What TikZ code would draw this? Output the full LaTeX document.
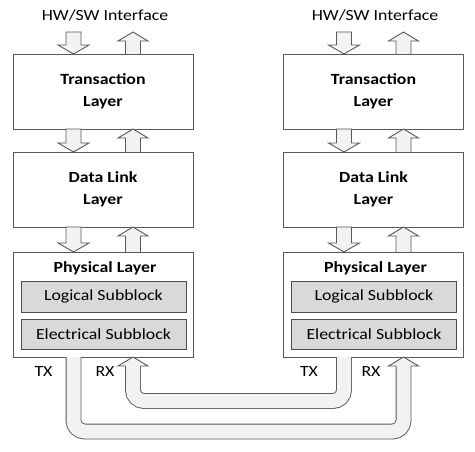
\documentclass[tikz,border=0pt]{standalone}
\usepackage{fontspec}
\setmainfont{Carlito}[FakeStretch=1.15]
\usepackage{tikz}

\begin{document}
\begin{tikzpicture}[x=1pt, y=1pt,
  every node/.style={outer sep=0pt, inner sep=0pt, text=black, font=\fontsize{15.5}{22}\selectfont},
  layerbox/.style={draw=black!65, line width=0.9pt, fill=white, minimum width=180pt, align=center, font=\fontsize{15.5}{22}\selectfont\bfseries},
  subbox/.style={draw=black!70, line width=0.9pt, fill=black!15, minimum width=165pt},
  fatarrow/.style={draw=black!65, line width=0.9pt, fill=black!5},
  fatpipe/.style={draw=black!65, line width=0.9pt, double=black!5, double distance=14pt, rounded corners=11pt},
  pics/dnarrow/.style={code={\filldraw[fatarrow] (-7.5,#1) -- (-7.5,9) -- (-15.5,9) -- (0,0) -- (15.5,9) -- (7.5,9) -- (7.5,#1) -- cycle;}},
  pics/uparrow/.style={code={\filldraw[fatarrow] (-7.5,0) -- (-7.5,{#1-9}) -- (-15,{#1-9}) -- (0,#1) -- (15,{#1-9}) -- (7.5,{#1-9}) -- (7.5,0);}}
]
\useasboundingbox (0,0) rectangle (475,451);

% left side
\node (hwL) at (105,436) {HW/SW Interface};
\node[layerbox, minimum height=75pt] (tlL) at (103,359.5) {Transaction\\Layer};
\node[layerbox, minimum height=75pt] (dlL) at (103,261.5) {Data Link\\Layer};
\node[layerbox, minimum height=105pt] (plL) at (103,146.5) {};
\node[font=\fontsize{15.5}{22}\selectfont\bfseries] (ptL) at (105,183) {Physical Layer};
\node[subbox, minimum height=31pt] (lsL) at (103.5,154.5) {Logical Subblock};
\node[subbox, minimum height=30pt] (esL) at (103.5,117) {Electrical Subblock};
\node (txtL) at (43.5,79) {TX};
\node (rxtL) at (105,79) {RX};

% right side
\node (hwR) at (375,436) {HW/SW Interface};
\node[layerbox, minimum height=75pt] (tlR) at (373.5,359.5) {Transaction\\Layer};
\node[layerbox, minimum height=75pt] (dlR) at (373.5,261.5) {Data Link\\Layer};
\node[layerbox, minimum height=105pt] (plR) at (373.5,146.5) {};
\node[font=\fontsize{15.5}{22}\selectfont\bfseries] (ptR) at (375.5,183) {Physical Layer};
\node[subbox, minimum height=31pt] (lsR) at (374,154.5) {Logical Subblock};
\node[subbox, minimum height=30pt] (esR) at (374,117) {Electrical Subblock};
\node (txtR) at (309,79) {TX};
\node (rxtR) at (371,79) {RX};

% block arrows between layers
\pic at ([xshift=-29.5pt]tlL.north) {dnarrow=22};
\pic at ([xshift=30pt]tlL.north) {uparrow=22};
\pic at ([xshift=-29.5pt]dlL.north) {dnarrow=23};
\pic at ([xshift=30pt]dlL.north) {uparrow=23};
\pic at ([xshift=-29.5pt]plL.north) {dnarrow=25};
\pic at ([xshift=30pt]plL.north) {uparrow=25};
\pic at ([xshift=-29.5pt]tlR.north) {dnarrow=22};
\pic at ([xshift=30pt]tlR.north) {uparrow=22};
\pic at ([xshift=-29.5pt]dlR.north) {dnarrow=23};
\pic at ([xshift=30pt]dlR.north) {uparrow=23};
\pic at ([xshift=-29.5pt]plR.north) {dnarrow=25};
\pic at ([xshift=30pt]plR.north) {uparrow=25};

% TX -> RX links
\coordinate (txL) at ([xshift=-29.5pt]plL.south);
\coordinate (rxL) at ([xshift=30pt,yshift=-9pt]plL.south);
\coordinate (txR) at ([xshift=-29.5pt]plR.south);
\coordinate (rxR) at ([xshift=30pt,yshift=-9pt]plR.south);
\draw[fatpipe] (txL) -- ++(0,-74.5) -| (rxR);
\draw[fatpipe] (txR) -- ++(0,-44) -| (rxL);
\pic at (rxL) {uparrow=9};
\pic at (rxR) {uparrow=9};
\end{tikzpicture}
\end{document}
